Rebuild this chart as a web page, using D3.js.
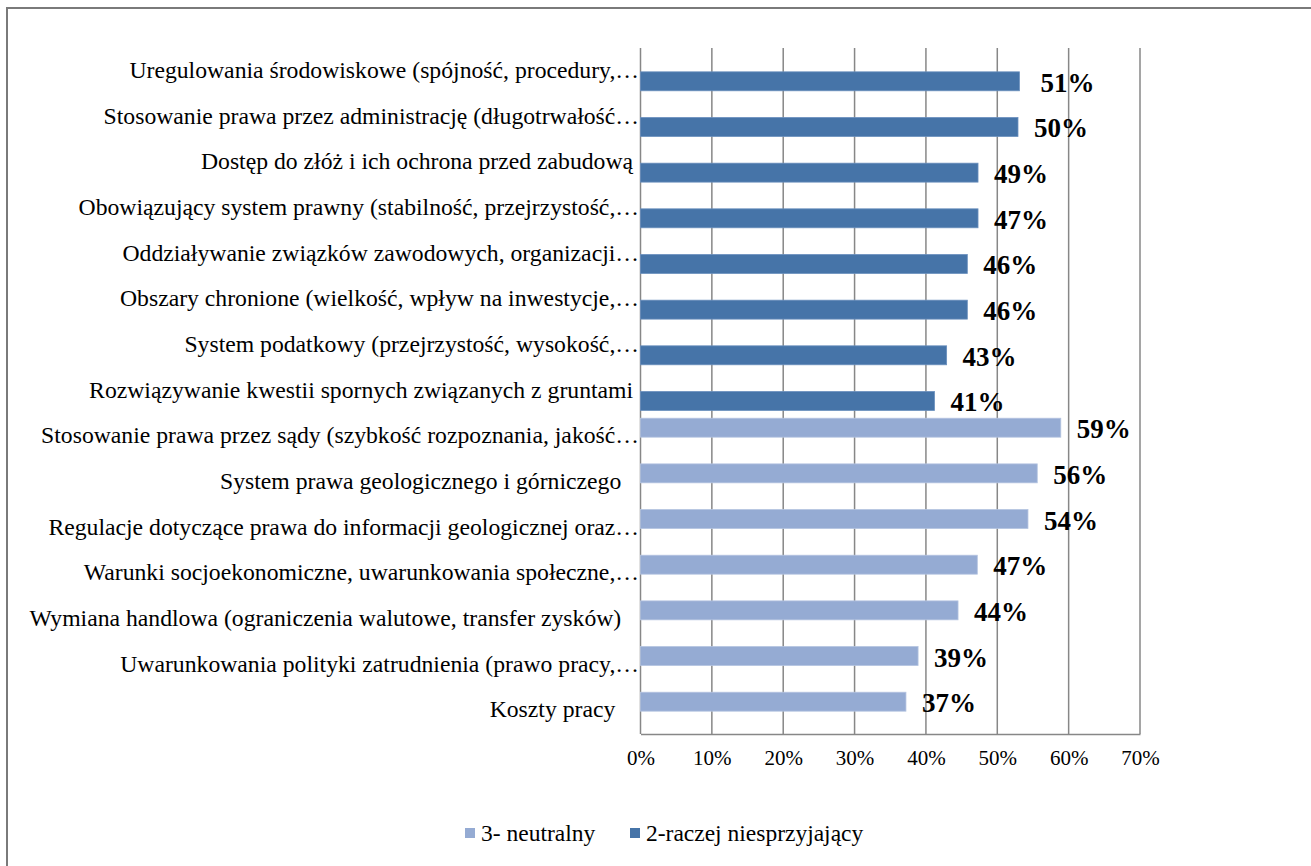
<!DOCTYPE html>
<html>
<head>
<meta charset="utf-8">
<script src="https://cdn.jsdelivr.net/npm/d3@7"></script>
<style>
  body { margin: 0; background: #fff; }
  svg { display: block; }
  text { font-family: "Liberation Serif", "Times New Roman", serif; fill: #000; white-space: pre; }
</style>
</head>
<body>
<div id="chart"></div>
<script>
// categories, top to bottom (trailing spaces are part of the source labels)
const categories = [
  'Uregulowania środowiskowe (spójność, procedury,…',
  'Stosowanie prawa przez administrację (długotrwałość…',
  'Dostęp do złóż i ich ochrona przed zabudową ',
  'Obowiązujący system prawny (stabilność, przejrzystość,…',
  'Oddziaływanie związków zawodowych, organizacji…',
  'Obszary chronione (wielkość, wpływ na inwestycje,…',
  'System podatkowy (przejrzystość, wysokość,…',
  'Rozwiązywanie kwestii spornych związanych z gruntami ',
  'Stosowanie prawa przez sądy (szybkość rozpoznania, jakość…',
  'System prawa geologicznego i górniczego   ',
  'Regulacje dotyczące prawa do informacji geologicznej oraz…',
  'Warunki socjoekonomiczne, uwarunkowania społeczne,…',
  'Wymiana handlowa (ograniczenia walutowe, transfer zysków)   ',
  'Uwarunkowania polityki zatrudnienia (prawo pracy,…',
  'Koszty pracy    '
];

// bar lengths (%) as drawn
const neutralny = [0, 0, 0, 0, 0, 0, 0, 0, 58.9, 55.6, 54.3, 47.2, 44.5, 38.9, 37.2];
const niesprzyjajacy = [53.1, 52.9, 47.3, 47.3, 45.8, 45.8, 42.9, 41.2, 0, 0, 0, 0, 0, 0, 0];

// data label texts as printed
const labelTexts = ['51%', '50%', '49%', '47%', '46%', '46%', '43%', '41%',
  '59%', '56%', '54%', '47%', '44%', '39%', '37%'];

const xTicks = [0, 10, 20, 30, 40, 50, 60, 70];

const seriesNames = ['3- neutralny', '2-raczej niesprzyjający'];
const seriesColors = ['#95abd3', '#4674a8'];

const W = 1311, H = 866;
const serif = '"Liberation Serif", "Times New Roman", serif';

const svg = d3.select('#chart').append('svg')
  .attr('width', W)
  .attr('height', H);

// outer frame (runs off the right and bottom edges)
svg.append('rect')
  .attr('x', 7)
  .attr('y', 8)
  .attr('width', 1400)
  .attr('height', 1000)
  .attr('fill', '#fff')
  .attr('stroke', '#7a7a7a')
  .attr('stroke-width', 2);

const x = d3.scaleLinear().domain([0, 70]).range([640.5, 1140]);
const y = d3.scaleBand().domain(d3.range(categories.length)).range([49, 734]).paddingInner(0.17).paddingOuter(0.085);
const ySub = d3.scaleBand().domain([0, 1]).range([0, y.bandwidth()]);

const rows = categories.map((c, i) => ({
  i: i,
  name: c,
  values: [neutralny[i], niesprzyjajacy[i]],
  label: labelTexts[i]
}));

// gridlines
svg.append('g')
  .attr('class', 'grid')
  .selectAll('line')
  .data(xTicks)
  .enter().append('line')
    .attr('x1', d => x(d))
    .attr('x2', d => x(d))
    .attr('y1', 48)
    .attr('y2', 734)
    .attr('stroke', '#878787')
    .attr('stroke-width', 1.5);

// bottom axis
const xAxis = d3.axisBottom(x)
  .tickValues(xTicks)
  .tickFormat(d => d + '%')
  .tickSize(0)
  .tickPadding(22);

const gx = svg.append('g')
  .attr('class', 'axis axis--x')
  .attr('transform', 'translate(0,734)')
  .attr('font-family', serif)
  .call(xAxis);
gx.select('.domain').attr('stroke', '#878787').attr('stroke-width', 1.5);
gx.selectAll('text')
  .attr('font-size', '21px')
  .attr('dy', '0.45em');

// category labels
svg.append('g')
  .attr('class', 'cats')
  .selectAll('text')
  .data(rows)
  .enter().append('text')
    .attr('x', 639)
    .attr('y', d => y(d.i) + y.bandwidth() / 2 - 2)
    .attr('dy', '0.35em')
    .attr('text-anchor', 'end')
    .attr('font-size', '23.7px')
    .text(d => d.name);

// bars
const groups = svg.append('g')
  .attr('class', 'bars')
  .selectAll('g')
  .data(rows)
  .enter().append('g')
    .attr('transform', d => 'translate(0,' + y(d.i) + ')');

groups.selectAll('rect')
  .data(d => d.values.map((v, s) => ({v: v, s: s})).filter(e => e.v > 0))
  .enter().append('rect')
    .attr('x', x(0))
    .attr('y', d => ySub(d.s))
    .attr('width', d => x(d.v) - x(0))
    .attr('height', ySub.bandwidth())
    .attr('fill', d => seriesColors[d.s])
    .attr('stroke', d => d.s === 0 ? '#b4c4e0' : '#6a8fbd')
    .attr('stroke-width', 0.8);

// data labels
groups.append('text')
  .attr('x', d => x(d3.max(d.values)) + (d.i === 0 ? 21 : 16))
  .attr('y', d => {
    const s = d.values[0] > 0 ? 0 : 1;
    return ySub(s) + ySub.bandwidth() / 2 + 10.5;
  })
  .attr('font-size', '27px')
  .attr('font-weight', 'bold')
  .text(d => d.label);

// legend
const legend = svg.append('g').attr('class', 'legend');
const legendX = [465, 630];
seriesNames.forEach((name, i) => {
  legend.append('rect')
    .attr('x', legendX[i])
    .attr('y', 828)
    .attr('width', 10)
    .attr('height', 10)
    .attr('fill', seriesColors[i]);
  legend.append('text')
    .attr('x', legendX[i] + 16)
    .attr('y', 841)
    .attr('font-size', '23.5px')
    .text(name);
});
</script>
</body>
</html>
